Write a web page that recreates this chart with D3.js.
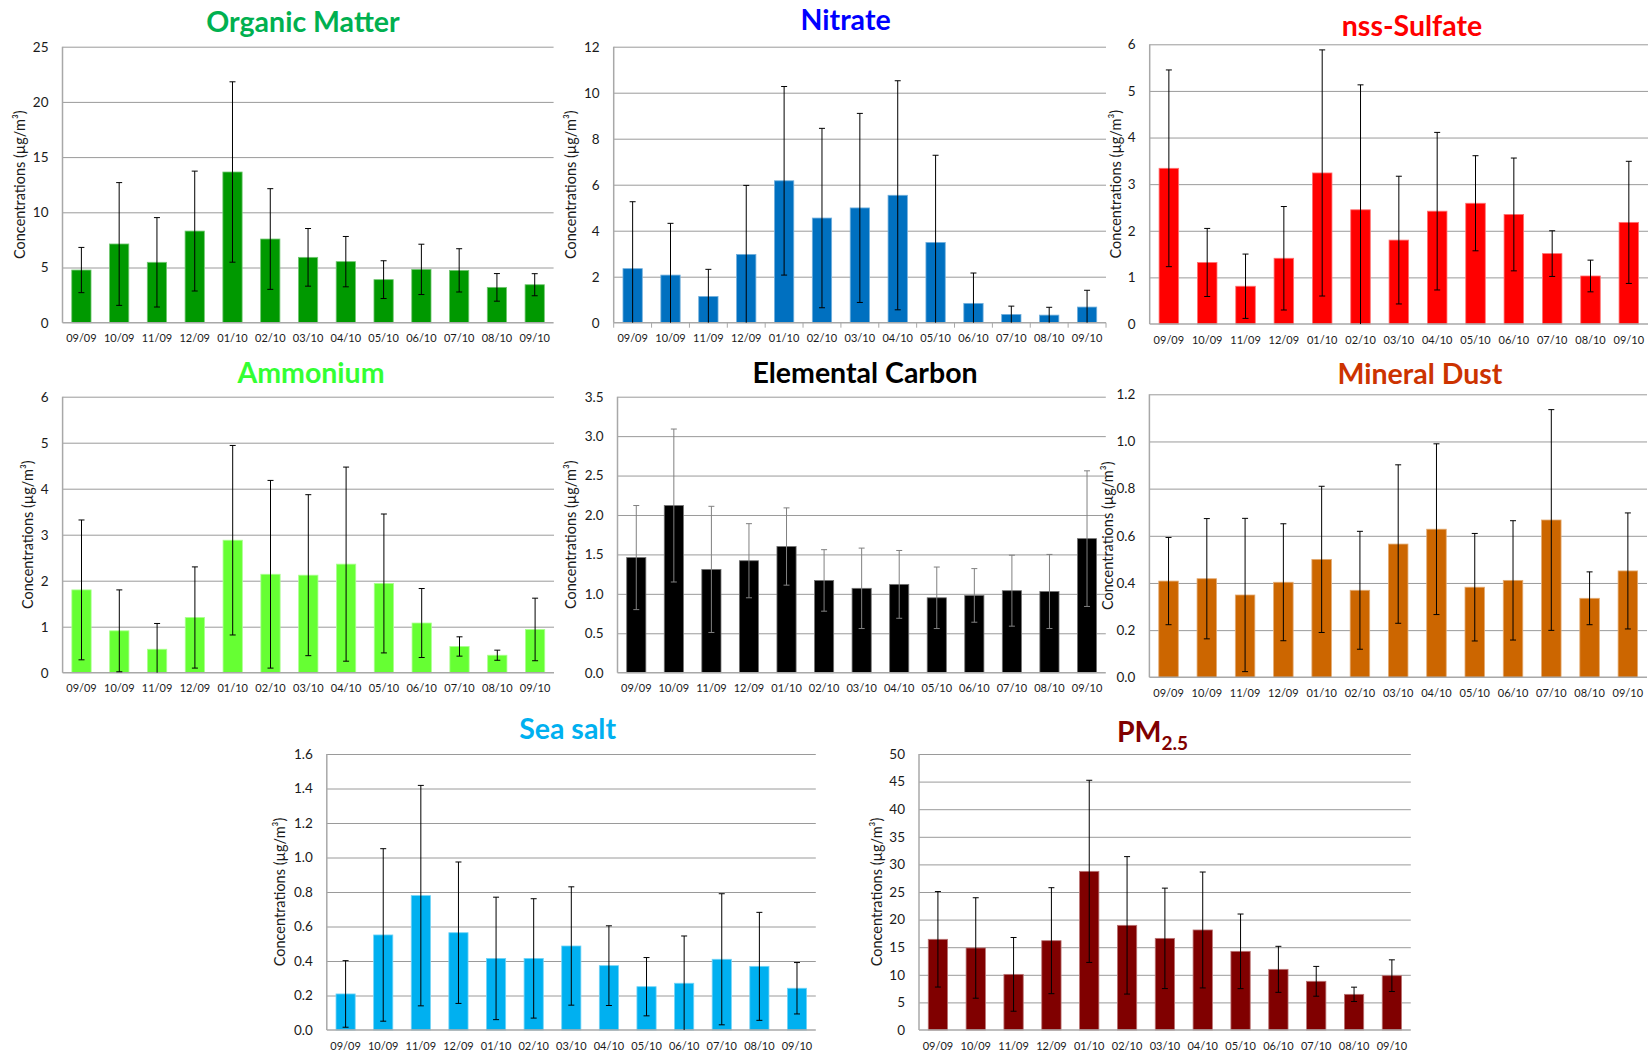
<!DOCTYPE html>
<html>
<head>
<meta charset="utf-8">
<script src="https://cdn.jsdelivr.net/npm/d3@7"></script>
<style>
  body { margin: 0; background: #fff; }
  svg { display: block; }
  text { font-family: Lato, "Open Sans", sans-serif; }
</style>
</head>
<body>
<svg id="fig" width="1648" height="1054"></svg>
<script>
// Monthly means (bars) and standard deviations (error bars), Sep 2009 – Sep 2010
const months = ["09/09", "10/09", "11/09", "12/09", "01/10", "02/10", "03/10", "04/10", "05/10", "06/10", "07/10", "08/10", "09/10"];

const organicMean = [4.77, 7.13, 5.47, 8.30, 13.65, 7.58, 5.92, 5.53, 3.90, 4.83, 4.74, 3.20, 3.44];
const organicSd   = [2.05, 5.56, 4.05, 5.43, 8.17, 4.56, 2.61, 2.28, 1.71, 2.28, 1.96, 1.25, 1.00];

const nitrateMean = [2.35, 2.07, 1.14, 2.97, 6.17, 4.55, 4.99, 5.54, 3.49, 0.84, 0.36, 0.33, 0.68];
const nitrateSd   = [2.91, 2.25, 1.18, 3.00, 4.10, 3.90, 4.11, 4.98, 3.79, 1.32, 0.36, 0.34, 0.73];

const sulfateMean = [3.34, 1.32, 0.81, 1.41, 3.24, 2.45, 1.80, 2.42, 2.59, 2.35, 1.51, 1.03, 2.18];
const sulfateSd   = [2.11, 0.73, 0.69, 1.11, 2.64, 2.68, 1.37, 1.69, 1.02, 1.21, 0.49, 0.34, 1.31];

const ammoniumMean = [1.80, 0.91, 0.51, 1.20, 2.88, 2.14, 2.12, 2.36, 1.94, 1.08, 0.57, 0.38, 0.94];
const ammoniumSd   = [1.52, 0.89, 0.56, 1.10, 2.06, 2.04, 1.75, 2.11, 1.51, 0.75, 0.21, 0.11, 0.68];

const carbonMean = [1.46, 2.12, 1.31, 1.42, 1.60, 1.17, 1.07, 1.12, 0.95, 0.98, 1.04, 1.03, 1.70];
const carbonSd   = [0.66, 0.97, 0.80, 0.47, 0.49, 0.39, 0.51, 0.43, 0.39, 0.34, 0.45, 0.47, 0.86];

const dustMean = [0.408, 0.418, 0.349, 0.403, 0.500, 0.369, 0.565, 0.628, 0.382, 0.411, 0.667, 0.335, 0.451];
const dustSd   = [0.185, 0.255, 0.325, 0.248, 0.310, 0.250, 0.336, 0.362, 0.228, 0.253, 0.468, 0.112, 0.246];

const seaSaltMean = [0.209, 0.551, 0.779, 0.564, 0.415, 0.415, 0.487, 0.373, 0.251, 0.271, 0.410, 0.369, 0.242];
const seaSaltSd   = [0.193, 0.500, 0.639, 0.410, 0.355, 0.346, 0.343, 0.231, 0.169, 0.274, 0.380, 0.313, 0.149];

const pmMean = [16.43, 14.86, 10.08, 16.18, 28.74, 18.96, 16.60, 18.12, 14.25, 10.99, 8.82, 6.46, 9.84];
const pmSd   = [8.65, 9.10, 6.68, 9.60, 16.50, 12.45, 9.10, 10.50, 6.76, 4.17, 2.70, 1.30, 2.87];

// Panel layout and styling
const panels = [
  { title: "Organic Matter", mean: organicMean, sd: organicSd, max: 25, step: 5, fmt: "d",
    bar: "#009900", titleColor: "#00B050", box: [62.5, 46.7, 553.6, 322.7], tx: 303, ty: 31.5, yTitleX: 21.5 },
  { title: "Nitrate", mean: nitrateMean, sd: nitrateSd, max: 12, step: 2, fmt: "d",
    bar: "#0070C0", titleColor: "#0000FF", box: [613.7, 46.7, 1106, 322.7], tx: 845.6, ty: 30, yTitleX: 572, ticks: true },
  { title: "nss-Sulfate", mean: sulfateMean, sd: sulfateSd, max: 6, step: 1, fmt: "d",
    bar: "#FF0000", titleColor: "#FF0000", box: [1149.7, 44.3, 1648, 324], tx: 1412, ty: 35.5, yTitleX: 1117.5 },
  { title: "Ammonium", mean: ammoniumMean, sd: ammoniumSd, max: 6, step: 1, fmt: "d",
    bar: "#66FF33", titleColor: "#33FF33", box: [62.6, 396.7, 554, 672.7], tx: 311, ty: 383, yTitleX: 29 },
  { title: "Elemental Carbon", mean: carbonMean, sd: carbonSd, max: 3.5, step: 0.5, fmt: ".1f",
    bar: "#000000", titleColor: "#000000", box: [617.5, 396.7, 1105.8, 672.7], tx: 865, ty: 383, yTitleX: 572, errColor: "#808080" },
  { title: "Mineral Dust", mean: dustMean, sd: dustSd, max: 1.2, step: 0.2, fmt: ".1f",
    bar: "#CC6600", titleColor: "#CC3300", box: [1149.4, 394.3, 1647, 677.3], tx: 1420, ty: 384, yTitleX: 1109.5 },
  { title: "Sea salt", mean: seaSaltMean, sd: seaSaltSd, max: 1.6, step: 0.2, fmt: ".1f",
    bar: "#00B0F0", titleColor: "#00B0F0", box: [326.8, 754, 815.8, 1030], tx: 567.6, ty: 739.3, yTitleX: 281.5 },
  { title: "PM", sub: "2.5", mean: pmMean, sd: pmSd, max: 50, step: 5, fmt: "d",
    bar: "#800000", titleColor: "#800000", box: [919, 754, 1410.8, 1030], tx: 1152.5, ty: 741.7, yTitleX: 878 }
];

const svg = d3.select("#fig");

panels.forEach(p => {
  const [x0, y0, x1, y1] = p.box;
  const g = svg.append("g");

  const x = d3.scaleBand().domain(months).range([x0, x1]).paddingInner(0.49).paddingOuter(0.245);
  const y = d3.scaleLinear().domain([0, p.max]).range([y1, y0]);
  const tickVals = d3.range(0, p.max + p.step / 2, p.step);

  // horizontal gridlines
  g.append("g")
    .attr("transform", `translate(${x0},0)`)
    .call(d3.axisLeft(y).tickValues(tickVals.slice(1)).tickSize(-(x1 - x0)).tickFormat(""))
    .call(a => a.select(".domain").remove())
    .call(a => a.selectAll("line").attr("stroke", "#9a9a9a").attr("stroke-width", 1));

  // y tick labels
  g.append("g")
    .attr("transform", `translate(${x0},0)`)
    .call(d3.axisLeft(y).tickValues(tickVals).tickSize(0).tickPadding(14).tickFormat(d3.format(p.fmt)))
    .call(a => a.select(".domain").remove())
    .call(a => a.selectAll("text").attr("font-size", 13.5).attr("fill", "#1a1a1a")
      .style("font-family", "Lato, 'Open Sans', sans-serif"));

  // x category labels
  g.append("g")
    .attr("transform", `translate(0,${y1})`)
    .call(d3.axisBottom(x).tickSize(0).tickPadding(12))
    .call(a => a.select(".domain").remove())
    .call(a => a.selectAll("text").attr("font-size", 11).attr("fill", "#1a1a1a")
      .style("font-family", "Lato, 'Open Sans', sans-serif"));

  // bars
  g.append("g").selectAll("rect").data(p.mean).join("rect")
    .attr("x", (d, i) => x(months[i]))
    .attr("y", d => y(d))
    .attr("width", x.bandwidth())
    .attr("height", d => y(0) - y(d))
    .attr("fill", p.bar)
    .attr("stroke", d3.interpolateRgb(p.bar, "#ffffff")(0.45))
    .attr("stroke-width", 0.8);

  // axis lines
  g.append("line").attr("x1", x0).attr("x2", x0).attr("y1", y0).attr("y2", y1)
    .attr("stroke", "#a8a8a8").attr("stroke-width", 1.5);
  g.append("line").attr("x1", x0).attr("x2", x1).attr("y1", y1).attr("y2", y1)
    .attr("stroke", "#a8a8a8").attr("stroke-width", 1.5);

  if (p.ticks) {
    g.append("g").selectAll("line").data(d3.range(months.length + 1)).join("line")
      .attr("x1", i => x0 + i * x.step()).attr("x2", i => x0 + i * x.step())
      .attr("y1", y1).attr("y2", y1 + 5)
      .attr("stroke", "#a8a8a8").attr("stroke-width", 1);
  }

  // error bars (mean ± sd, clipped at the axis)
  const errColor = p.errColor || "#000000";
  const eb = g.append("g").attr("stroke", errColor).attr("stroke-width", 1);
  p.mean.forEach((m, i) => {
    const cx = x(months[i]) + x.bandwidth() / 2;
    const hi = m + p.sd[i];
    const lo = Math.max(0, m - p.sd[i]);
    eb.append("line").attr("x1", cx).attr("x2", cx).attr("y1", y(lo)).attr("y2", y(hi));
    eb.append("line").attr("x1", cx - 3).attr("x2", cx + 3).attr("y1", y(hi)).attr("y2", y(hi));
    if (m - p.sd[i] > 0) {
      eb.append("line").attr("x1", cx - 3).attr("x2", cx + 3).attr("y1", y(lo)).attr("y2", y(lo));
    }
  });

  // y axis title
  svg.append("text")
    .attr("transform", `translate(${p.yTitleX},${(y0 + y1) / 2}) rotate(-90)`)
    .attr("text-anchor", "middle")
    .attr("dominant-baseline", "middle")
    .attr("font-size", 14.5)
    .attr("fill", "#1a1a1a")
    .text("Concentrations (µg/m³)");

  // panel title
  const t = svg.append("text")
    .attr("x", p.tx).attr("y", p.ty)
    .attr("text-anchor", "middle")
    .attr("font-size", 28.5)
    .attr("font-weight", 700)
    .attr("fill", p.titleColor)
    .text(p.title);
  if (p.sub) {
    t.append("tspan").attr("dy", 8).attr("font-size", 19).text(p.sub);
  }
});
</script>
</body>
</html>
